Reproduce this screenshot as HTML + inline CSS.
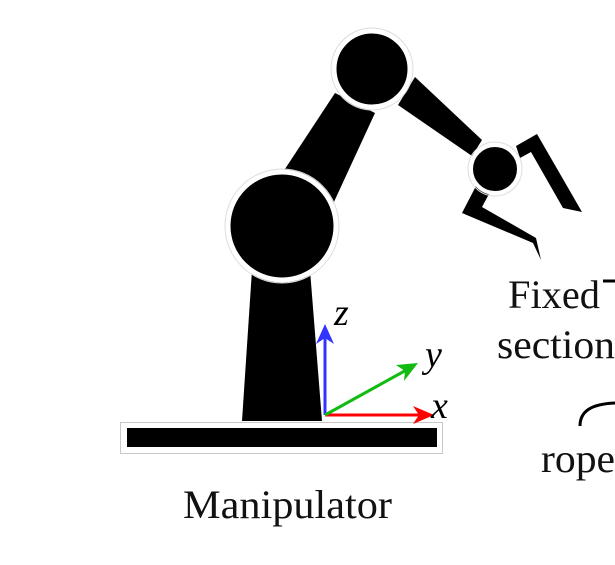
<!DOCTYPE html>
<html><head><meta charset="utf-8"><style>
html,body{margin:0;padding:0;background:#fff;}
svg{display:block;}
</style></head><body>
<svg width="615" height="565" viewBox="0 0 615 565" xmlns="http://www.w3.org/2000/svg">
<rect x="120.5" y="422.5" width="322" height="31" fill="#fff" stroke="#c8c8c8" stroke-width="1"/>
<rect x="127" y="428" width="310" height="19" fill="#000"/>
<polygon points="252,270 310,270 322,421 242,421" fill="#000"/>
<polygon points="283,172 335,93 375,113 333,204" fill="#000"/>
<polygon points="415,77 482,140 472,156 398,105" fill="#000"/>
<polygon points="516,146 537,134 582,212 563,208 531,152 520,158" fill="#000"/>
<polygon points="476,186 462,213 533,243 541,260 536,238 482,207 489,194" fill="#000"/>
<circle cx="282" cy="226" r="54" fill="#000" stroke="#fff" stroke-width="5"/>
<circle cx="282" cy="226" r="57" fill="none" stroke="#ddd" stroke-width="1"/>
<circle cx="372" cy="69" r="38" fill="#000" stroke="#fff" stroke-width="5"/>
<circle cx="372" cy="69" r="41" fill="none" stroke="#ddd" stroke-width="1"/>
<circle cx="495" cy="169" r="24" fill="#000" stroke="#fff" stroke-width="4"/>
<circle cx="495" cy="169" r="27" fill="none" stroke="#ddd" stroke-width="1"/>
<line x1="325" y1="415" x2="325" y2="335" stroke="#3333ff" stroke-width="3"/>
<polygon points="325,324 316,344 325,338 334,344" fill="#3333ff"/>
<line x1="325" y1="415" x2="425" y2="415" stroke="#ff0000" stroke-width="3"/>
<polygon points="434,415 413,406 419,415 413,424" fill="#ff0000"/>
<line x1="325" y1="415" x2="410" y2="368" stroke="#11bb11" stroke-width="3"/>
<polygon points="418,363 396,365 405,371 404,381" fill="#11bb11"/>
<g font-family="Liberation Serif, serif" font-style="italic" font-size="38">
<text x="334" y="325">z</text>
<text x="425" y="367">y</text>
<text x="431" y="418">x</text>
</g>
<g font-family="Liberation Serif, serif" font-size="40" fill="#111">
<text x="183" y="518" textLength="209" lengthAdjust="spacingAndGlyphs">Manipulator</text>
<text x="508" y="308" textLength="92" lengthAdjust="spacingAndGlyphs">Fixed</text>
<text x="497" y="358" textLength="118" lengthAdjust="spacingAndGlyphs">section</text>
<text x="541" y="472" textLength="74" lengthAdjust="spacingAndGlyphs">rope</text>
</g>
<line x1="603" y1="281" x2="615" y2="281" stroke="#000" stroke-width="3"/>
<path d="M580,426 C580,412 590,404 615,403" fill="none" stroke="#000" stroke-width="3"/>
</svg>
</body></html>
